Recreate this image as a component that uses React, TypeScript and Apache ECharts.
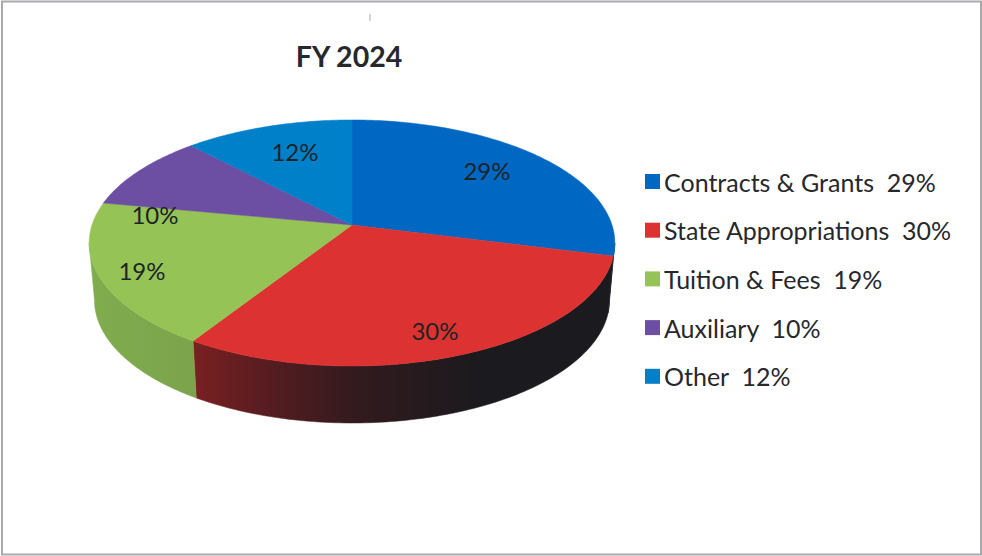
import React, { useEffect, useRef } from "react";
import * as echarts from "echarts";

const categories = ["Contracts & Grants", "State Appropriations", "Tuition & Fees", "Auxiliary", "Other"];
const shares = [29, 30, 19, 10, 12];
const chartTitle = "FY 2024";

const topColors = ["#0068c3", "#dc3232", "#95c356", "#6c4ea2", "#0080c8"];
const FONT = "Lato, 'Open Sans', sans-serif";
const TEXT = "#26282b";

// projection of the tilted disc
const CX = 352, CY = 225, RX = 260, RY = 120.4, PERSP = 0.146, DEPTH = 57, BOTTOM_SCALE = 0.98;
const LABEL_XY = [[487, 170], [435, 330], [142, 270], [155, 214], [295, 151]];

const total = shares.reduce((a, b) => a + b, 0);
const project = (deg: number, r = 1): [number, number] => {
  const t = (deg * Math.PI) / 180;
  const u = r * Math.sin(t), v = r * Math.cos(t);
  const d = 1 + PERSP * v;
  return [CX + (RX * u) / d, CY - (RY * v) / d];
};
const arcPoints = (a: number, b: number) => {
  const out: [number, number][] = [];
  const n = Math.max(2, Math.ceil(Math.abs(b - a)));
  for (let i = 0; i <= n; i++) out.push(project(a + ((b - a) * i) / n));
  return out;
};
const WALL_FROM = (Math.acos(-PERSP) * 180) / Math.PI;
const WALL_TO = 360 - WALL_FROM;

const wallFill = (i: number) => {
  if (i === 0) return "#17171c";
  if (i === 1)
    return new echarts.graphic.LinearGradient(193, 0, 480, 0, [
      { offset: 0, color: "#7a2022" },
      { offset: 0.3, color: "#511c20" },
      { offset: 0.6, color: "#301a1e" },
      { offset: 1, color: "#1b1a1e" },
    ], true);
  return new echarts.graphic.LinearGradient(88, 0, 195, 0, [
    { offset: 0, color: "#80ad4e" },
    { offset: 1, color: "#7ba34c" },
  ], true);
};

const renderSlice = (params: any, api: any) => {
  const i = params.seriesIndex;
  const value = api.value(0);
  const before = shares.slice(0, i).reduce((a, b) => a + b, 0);
  const a0 = (before / total) * 360;
  const a1 = a0 + (value / total) * 360;
  const children: any[] = [];
  const w0 = Math.max(a0, WALL_FROM), w1 = Math.min(a1, WALL_TO);
  if (w1 > w0) {
    const rim = arcPoints(w0, w1);
    const low = rim.map(([x, y]) => [CX + (x - CX) * BOTTOM_SCALE, y + DEPTH]).reverse();
    const fill = wallFill(i);
    children.push({ type: "polygon", shape: { points: [...rim, ...low] }, style: { fill, stroke: fill, lineWidth: 0.5 } });
  }
  children.push({
    type: "polygon",
    shape: { points: [[CX, CY], ...arcPoints(a0, a1)] },
    style: { fill: topColors[i], stroke: topColors[i], lineWidth: 0.5 },
  });
  children.push({
    type: "text",
    style: {
      x: LABEL_XY[i][0], y: LABEL_XY[i][1], text: `${value}%`, fill: "#1c2426",
      font: `24px ${FONT}`, align: "center", verticalAlign: "middle",
    },
  });
  return { type: "group", children };
};

export default function App() {
  const ref = useRef<HTMLDivElement>(null);
  useEffect(() => {
    document.body.style.margin = "0";
    const chart = echarts.init(ref.current!, null, { renderer: "svg" });
    chart.setOption({
      animation: false,
      backgroundColor: "#ffffff",
      title: {
        text: chartTitle, left: 344, top: 36, textAlign: "center",
        textStyle: { fontFamily: FONT, fontSize: 28.5, fontWeight: "bold", color: TEXT },
      },
      legend: {
        orient: "vertical", left: 640, top: 164, itemWidth: 15, itemHeight: 15, itemGap: 23.7,
        icon: "rect", selectedMode: false,
        data: categories.map((c, i) => `${c}  ${shares[i]}%`),
        textStyle: { fontFamily: FONT, fontSize: 25, color: TEXT, padding: [0, 0, 0, -1], lineHeight: 24 },
      },
      graphic: [
        { type: "rect", shape: { x: 2, y: 1.5, width: 979, height: 553 }, style: { fill: "none", stroke: "#a9a9ad", lineWidth: 2 }, silent: true },
        { type: "rect", shape: { x: 369, y: 14, width: 2, height: 7 }, style: { fill: "#d4d4d4" }, silent: true },
      ],
      series: categories.map((c, i) => ({
        type: "custom",
        name: `${c}  ${shares[i]}%`,
        coordinateSystem: "none",
        renderItem: renderSlice,
        itemStyle: { color: topColors[i] },
        data: [[shares[i]]],
        silent: true,
      })),
    });
    return () => chart.dispose();
  }, []);
  return <div ref={ref} style={{ width: 982, height: 556 }} />;
}
